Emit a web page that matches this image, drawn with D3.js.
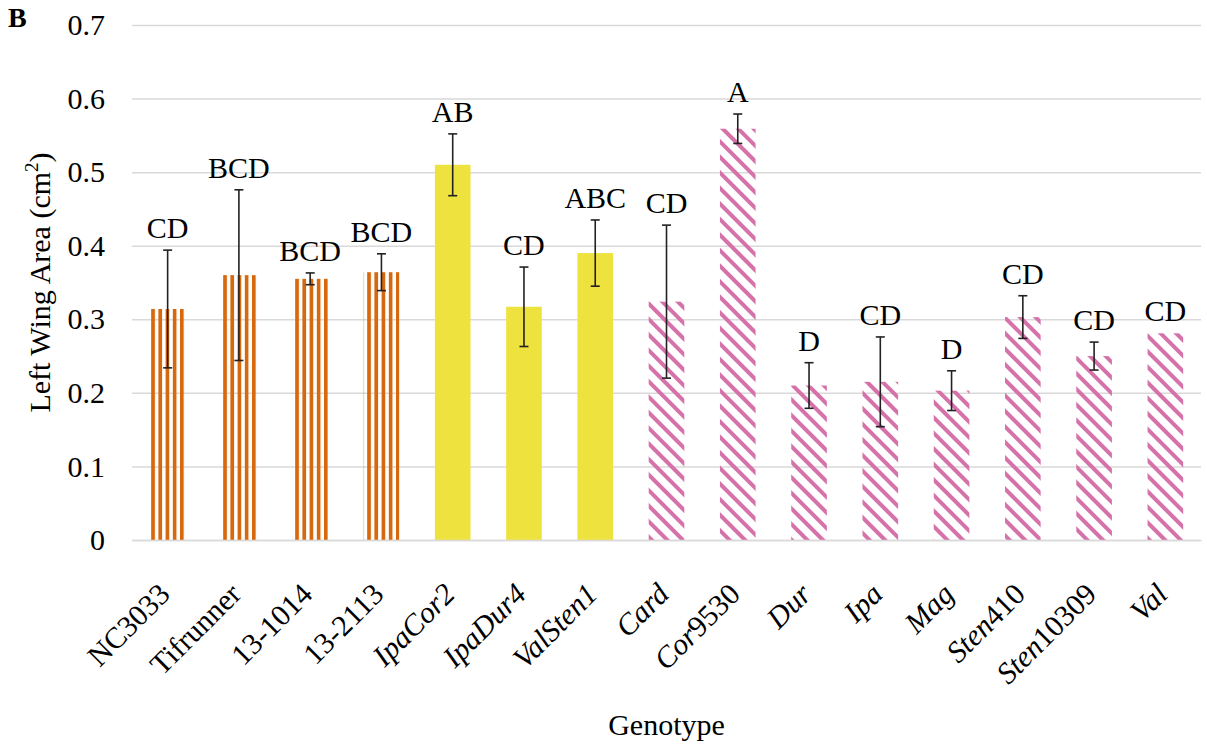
<!DOCTYPE html>
<html>
<head>
<meta charset="utf-8">
<script src="https://cdn.jsdelivr.net/npm/d3@7"></script>
<style>
  body { margin: 0; background: #fff; }
</style>
</head>
<body>
<svg id="chart" width="1207" height="751"></svg>
<script>
// genotype names, the italic part of each name, and its group
const genotypes = ["NC3033", "Tifrunner", "13-1014", "13-2113", "IpaCor2", "IpaDur4", "ValSten1",
  "Card", "Cor9530", "Dur", "Ipa", "Mag", "Sten410", "Sten10309", "Val"];
const italicPart = ["", "", "", "", "IpaCor2", "IpaDur4", "ValSten1",
  "Card", "Cor", "Dur", "Ipa", "Mag", "Sten", "Sten", "Val"];
const groups = ["cultivated", "cultivated", "cultivated", "cultivated",
  "amphidiploid", "amphidiploid", "amphidiploid",
  "wild", "wild", "wild", "wild", "wild", "wild", "wild", "wild"];

// mean left wing area (cm2) and standard error
const means = [0.314, 0.360, 0.355, 0.364, 0.510, 0.317, 0.390, 0.324, 0.559, 0.210, 0.215, 0.203, 0.303, 0.250, 0.281];
const errors = [0.080, 0.116, 0.008, 0.025, 0.042, 0.054, 0.045, 0.104, 0.020, 0.031, 0.061, 0.027, 0.029, 0.019, 0];
const letters = ["CD", "BCD", "BCD", "BCD", "AB", "CD", "ABC", "CD", "A", "D", "CD", "D", "CD", "CD", "CD"];

const yTicks = [0, 0.1, 0.2, 0.3, 0.4, 0.5, 0.6, 0.7];

const FONT = "'Liberation Serif', 'Times New Roman', 'DejaVu Serif', serif";
const svg = d3.select("#chart").style("font-family", FONT);
const m = { left: 132, right: 1201, top: 25, bottom: 540 };

const x = d3.scaleBand()
    .domain(genotypes)
    .range([m.left, m.right])
    .paddingInner(0.5)
    .paddingOuter(0.25);
const y = d3.scaleLinear()
    .domain([0, 0.7])
    .range([m.bottom, m.top]);

// fill patterns
const defs = svg.append("defs");
let p = defs.append("pattern").attr("id", "pat-cultivated")
    .attr("patternUnits", "userSpaceOnUse")
    .attr("width", 7.2).attr("height", 10);
p.append("rect").attr("x", 0).attr("y", 0).attr("width", 3.7).attr("height", 10).attr("fill", "#d8680e");

p = defs.append("pattern").attr("id", "pat-wild")
    .attr("patternUnits", "userSpaceOnUse")
    .attr("width", 11).attr("height", 11)
    .attr("patternTransform", "rotate(-45)");
p.append("rect").attr("x", 0).attr("y", 0).attr("width", 4).attr("height", 11).attr("fill", "#d672aa");

const fills = { cultivated: "url(#pat-cultivated)", amphidiploid: "#eee23e", wild: "url(#pat-wild)" };

// gridlines + y tick labels
const yAxis = d3.axisLeft(y)
    .tickValues(yTicks)
    .tickSize(-(m.right - m.left))
    .tickPadding(27)
    .tickFormat(d => d === 0 ? "0" : d3.format(".1f")(d));
const gy = svg.append("g").attr("transform", `translate(${m.left},0)`).call(yAxis);
gy.attr("font-family", FONT).attr("font-size", 30);
gy.select(".domain").remove();
gy.selectAll(".tick line").attr("stroke", "#d9d9d9").attr("stroke-width", 1.5);
gy.selectAll(".tick text").attr("fill", "#000").style("font-family", FONT).style("font-size", "30px");

// bars
const data = genotypes.map((g, i) => ({ g, i, v: means[i], e: errors[i], grp: groups[i] }));
svg.append("g").selectAll("rect")
  .data(data)
  .join("rect")
    .attr("x", d => x(d.g))
    .attr("y", d => y(d.v))
    .attr("width", x.bandwidth())
    .attr("height", d => y(0) - y(d.v))
    .attr("fill", d => fills[d.grp]);

// x axis line + category labels
const xAxis = d3.axisBottom(x).tickSize(0).tickFormat("");
const gx = svg.append("g").attr("transform", `translate(0,${m.bottom})`).call(xAxis);
gx.select(".domain").attr("stroke", "#d9d9d9").attr("stroke-width", 1.5);

const catLabels = svg.append("g").selectAll("text")
  .data(data)
  .join("text")
    .attr("transform", d => `translate(${x(d.g) + x.bandwidth() / 2 + 4},${m.bottom + 56}) rotate(-45)`)
    .attr("text-anchor", "end")
    .style("font-family", FONT)
    .style("font-size", "30px");
catLabels.each(function(d) {
  const t = d3.select(this);
  const it = italicPart[d.i];
  if (it) t.append("tspan").style("font-style", "italic").text(it);
  const rest = d.g.slice(it.length);
  if (rest) t.append("tspan").text(rest);
});

// error bars
const cx = d => x(d.g) + x.bandwidth() / 2;
const eb = svg.append("g").attr("stroke", "#222").attr("stroke-width", 1.6)
  .selectAll("g")
  .data(data.filter(d => d.e > 0))
  .join("g");
eb.append("line").attr("x1", cx).attr("x2", cx).attr("y1", d => y(d.v + d.e)).attr("y2", d => y(d.v - d.e));
eb.append("line").attr("x1", d => cx(d) - 4.5).attr("x2", d => cx(d) + 4.5).attr("y1", d => y(d.v + d.e)).attr("y2", d => y(d.v + d.e));
eb.append("line").attr("x1", d => cx(d) - 4.5).attr("x2", d => cx(d) + 4.5).attr("y1", d => y(d.v - d.e)).attr("y2", d => y(d.v - d.e));

// significance letters
svg.append("g").selectAll("text")
  .data(data)
  .join("text")
    .attr("x", cx)
    .attr("y", d => y(d.v + d.e) - 12)
    .attr("text-anchor", "middle")
    .style("font-family", FONT)
    .style("font-size", "30px")
    .text(d => letters[d.i]);

// axis titles
svg.append("text")
    .attr("x", (m.left + m.right) / 2)
    .attr("y", 735)
    .attr("text-anchor", "middle")
    .style("font-family", FONT)
    .style("font-size", "30px")
    .text("Genotype");

const yt = svg.append("text")
    .attr("transform", `translate(50,${(m.top + m.bottom) / 2}) rotate(-90)`)
    .attr("text-anchor", "middle")
    .style("font-family", FONT)
    .style("font-size", "30px");
yt.append("tspan").text("Left Wing Area (cm");
yt.append("tspan").style("font-size", "19px").attr("dy", -12).text("2");
yt.append("tspan").attr("dy", 12).text(")");

svg.append("text")
    .attr("x", 8).attr("y", 27)
    .style("font-family", FONT)
    .style("font-size", "28px")
    .style("font-weight", "bold")
    .text("B");
</script>
</body>
</html>
